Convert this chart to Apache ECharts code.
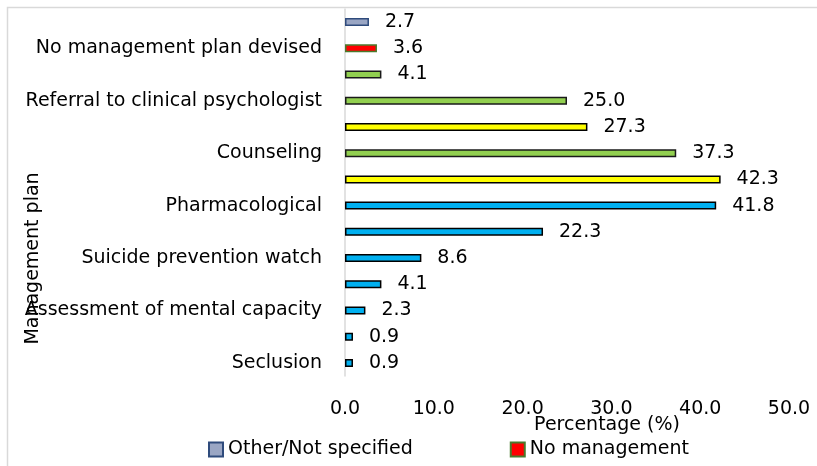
<!DOCTYPE html>
<html>
<head>
<meta charset="utf-8">
<script src="https://cdn.jsdelivr.net/npm/echarts@6/dist/echarts.min.js"></script>
<style>
  html, body { margin: 0; padding: 0; background: #fff; }
  #chart { width: 817px; height: 466px; }
</style>
</head>
<body>
<div id="chart"></div>
<script>
// rows from top to bottom; blank rows had no label in the original
var categories = ['', 'No management plan devised', '', 'Referral to clinical psychologist', '',
  'Counseling', '', 'Pharmacological', '', 'Suicide prevention watch', '',
  'Assessment of mental capacity', '', 'Seclusion'];

var otherValues  = [2.7, '-', '-', '-', '-', '-', '-', '-', '-', '-', '-', '-', '-', '-'];
var noMgmtValues = ['-', 3.6, '-', '-', '-', '-', '-', '-', '-', '-', '-', '-', '-', '-'];
var greenValues  = ['-', '-', 4.1, 25.0, '-', 37.3, '-', '-', '-', '-', '-', '-', '-', '-'];
var yellowValues = ['-', '-', '-', '-', 27.3, '-', 42.3, '-', '-', '-', '-', '-', '-', '-'];
var blueValues   = ['-', '-', '-', '-', '-', '-', '-', 41.8, 22.3, 8.6, 4.1, 2.3, 0.9, 0.9];

var xTicks = [0, 10, 20, 30, 40, 50];

var FONT = 'DejaVu Sans';
var FS = 19;

// one bar series, all share a stack so the bars sit centred in their row
function barSeries(name, values, fill, border) {
  return {
    name: name,
    type: 'bar',
    stack: 'all',
    barWidth: 8,
    data: values,
    itemStyle: {
      color: fill,
      borderColor: border,
      borderWidth: 1.5
    },
    label: {
      show: true,
      position: 'right',
      distance: 16,
      color: '#000',
      fontFamily: FONT,
      fontSize: FS,
      formatter: function (p) { return Number(p.value).toFixed(1); }
    }
  };
}

var chart = echarts.init(document.getElementById('chart'));

var option = {
  animation: false,
  textStyle: { fontFamily: FONT },
  graphic: [{
    type: 'rect',
    shape: { x: 7.5, y: 7.5, width: 900, height: 600 },
    style: { fill: 'none', stroke: '#d9d9d9', lineWidth: 1.5 },
    silent: true
  }],
  grid: {
    left: 345,
    right: 28,
    top: 9,
    bottom: 90,
    containLabel: false,
    outerBoundsMode: 'none'
  },
  legend: {
    data: ['Other/Not specified', 'No management'],
    left: 203,
    top: 435,
    itemWidth: 14,
    itemHeight: 14,
    itemGap: 97,
    icon: 'rect',
    textStyle: { fontFamily: FONT, fontSize: FS, color: '#000' }
  },
  xAxis: {
    type: 'value',
    min: 0,
    max: xTicks[xTicks.length - 1],
    interval: 10,
    name: 'Percentage (%)',
    nameLocation: 'middle',
    nameGap: 40,
    nameMoveOverlap: false,
    nameTextStyle: { fontFamily: FONT, fontSize: FS, color: '#000', padding: [0, 0, 0, 80] },
    axisLine: { show: false },
    axisTick: { show: false },
    splitLine: { show: false },
    axisLabel: {
      margin: 24,
      fontFamily: FONT,
      fontSize: FS,
      color: '#000',
      formatter: function (v) { return v.toFixed(1); }
    }
  },
  yAxis: {
    type: 'category',
    inverse: true,
    data: categories,
    name: 'Management plan',
    nameLocation: 'middle',
    nameGap: 302,
    nameRotate: 90,
    nameMoveOverlap: false,
    nameTextStyle: { fontFamily: FONT, fontSize: FS, color: '#000', padding: [0, 132, 0, 0] },
    axisLine: { show: true, lineStyle: { color: '#d9d9d9', width: 1.5 } },
    axisTick: { show: false },
    axisLabel: {
      interval: 0,
      margin: 23,
      fontFamily: FONT,
      fontSize: FS,
      color: '#000'
    }
  },
  series: [
    barSeries('Other/Not specified', otherValues, '#9aa6c4', '#2f4b7c'),
    barSeries('No management', noMgmtValues, '#ff0000', '#4a7a2c'),
    barSeries('Psychological', greenValues, '#92d050', '#1a1a1a'),
    barSeries('Pharmacological plan', yellowValues, '#ffff00', '#000000'),
    barSeries('Safety measures', blueValues, '#00b0f0', '#000000')
  ]
};

chart.setOption(option);
</script>
</body>
</html>
